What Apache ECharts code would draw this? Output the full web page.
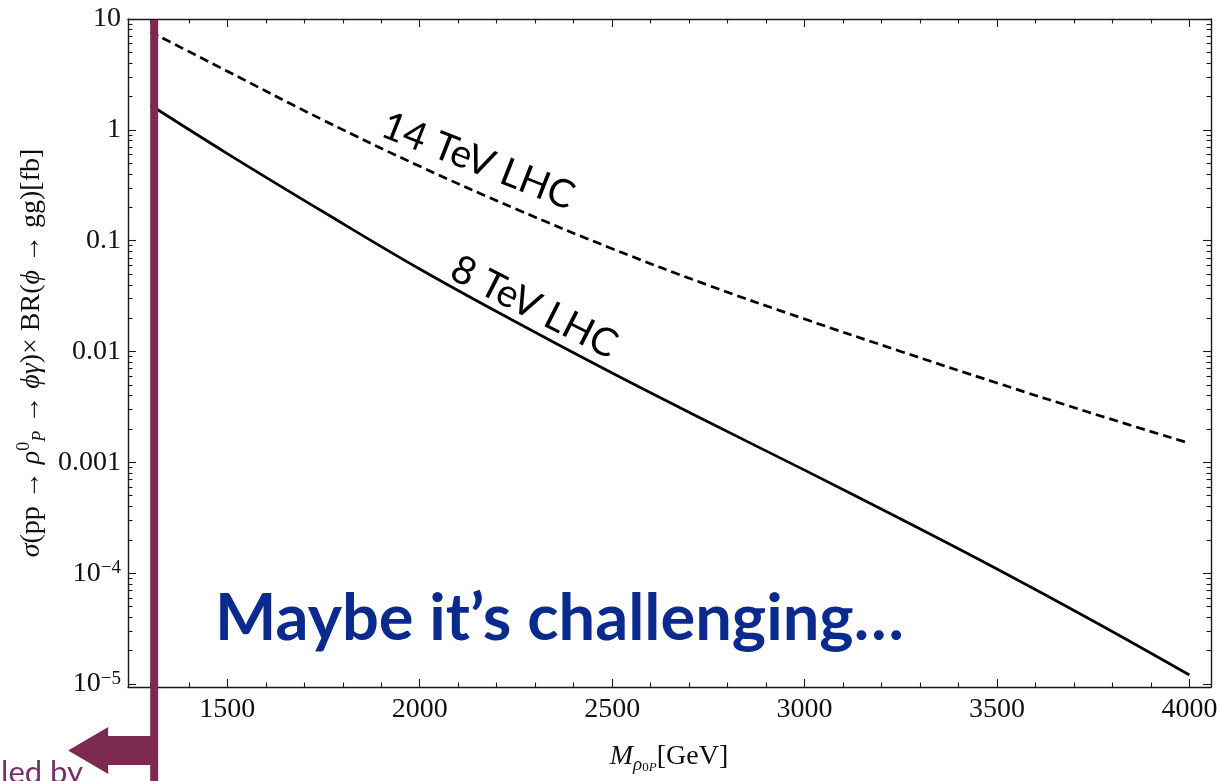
<!DOCTYPE html>
<html>
<head>
<meta charset="utf-8">
<script src="https://cdn.jsdelivr.net/npm/echarts@6/dist/echarts.min.js"></script>
<style>
html,body{margin:0;padding:0;background:#fff;overflow:hidden}
#c{width:1222px;height:781px}
</style>
</head>
<body>
<div id="c"></div>
<script>
// ---- data ----
const massGeV = [1300, 1500, 1750, 2000, 2250, 2500, 2750, 3000, 3250, 3500, 3750, 4000];
const sigma14TeV = [7.67, 3.38, 1.22, 0.469, 0.1932, 0.0847, 0.0396, 0.01963, 0.01002, 0.0052, 0.00275, 0.001486];
const sigma8TeV = [1.675, 0.611, 0.1814, 0.0555, 0.01845, 0.00639, 0.00231, 0.000851, 0.000308, 0.000109, 0.000037, 0.00001205];
const seriesNames = ['14 TeV LHC', '8 TeV LHC'];
const xMajorTicks = [1500, 2000, 2500, 3000, 3500, 4000];
const xTickLabels = ['1500', '2000', '2500', '3000', '3500', '4000'];
const yMajorTicks = [1e-5, 1e-4, 1e-3, 1e-2, 0.1, 1, 10];
const yTickLabels = ['10^−5', '10^−4', '0.001', '0.01', '0.1', '1', '10'];
const exclusionMass = 1310;
const X_MIN = 1242, X_MAX = 4056, Y_MIN = 9.4e-6, Y_MAX = 10;

// minor tick positions (axis decoration)
const xMinorTicks = [];
for (let v = 1300; v <= 4000; v += 100) if (xMajorTicks.indexOf(v) < 0) xMinorTicks.push(v);
const yMinorTicks = [];
for (let e = -5; e <= 0; e++) for (let m = 2; m <= 9; m++) yMinorTicks.push(Number((m * Math.pow(10, e)).toPrecision(6)));

const serif = "'Liberation Serif', 'DejaVu Serif', serif";
const sans = "Lato, 'Open Sans', 'Noto Sans', sans-serif";
const frameColor = '#1a1a1a';
const majorLen = 8, minorLen = 4.5;

function yLabelFmt(value) {
  let idx = -1, best = 1e9;
  yMajorTicks.forEach((t, i) => { const d = Math.abs(Math.log10(t) - Math.log10(value)); if (d < best) { best = d; idx = i; } });
  const s = yTickLabels[idx];
  if (s.indexOf('^') >= 0) { const p = s.split('^'); return '{b|' + p[0] + '}{sup|' + p[1] + '}'; }
  return '{b|' + s + '}';
}

function xAxisDef(position, ticks, len, labels, line) {
  return {
    type: 'value', position: position, min: X_MIN, max: X_MAX, gridIndex: 0,
    axisLine: { show: line, onZero: false, lineStyle: { color: frameColor, width: 1.4 } },
    axisTick: { show: true, inside: true, length: len, customValues: ticks, lineStyle: { color: frameColor, width: 1.1 } },
    axisLabel: labels ? {
      show: true, customValues: xMajorTicks, margin: 9, color: '#111', fontSize: 28, fontFamily: serif,
      formatter: v => xTickLabels[xMajorTicks.indexOf(Math.round(v))]
    } : { show: false },
    splitLine: { show: false }
  };
}
function yAxisDef(position, ticks, len, labels, line) {
  return {
    type: 'log', logBase: 10, position: position, min: Y_MIN, max: Y_MAX, gridIndex: 0,
    axisLine: { show: line, onZero: false, lineStyle: { color: frameColor, width: 1.4 } },
    axisTick: { show: true, inside: true, length: len, customValues: ticks, lineStyle: { color: frameColor, width: 1.1 } },
    axisLabel: labels ? {
      show: true, customValues: yMajorTicks, margin: 7, formatter: yLabelFmt,
      rich: {
        b: { fontSize: 28, fontFamily: serif, color: '#111', verticalAlign: 'middle', lineHeight: 30 },
        sup: { fontSize: 19, fontFamily: serif, color: '#111', verticalAlign: 'top', lineHeight: 18 }
      }
    } : { show: false },
    splitLine: { show: false }
  };
}

const chart = echarts.init(document.getElementById('c'), null, { renderer: 'canvas' });
chart.setOption({
  backgroundColor: '#ffffff',
  animation: false,
  grid: { left: 128, right: 11, top: 19, bottom: 94, containLabel: false, outerBoundsMode: 'none' },
  xAxis: [
    xAxisDef('bottom', xMajorTicks, majorLen, true, true),
    xAxisDef('bottom', xMinorTicks, minorLen, false, false),
    xAxisDef('top', xMajorTicks, majorLen, false, true),
    xAxisDef('top', xMinorTicks, minorLen, false, false)
  ],
  yAxis: [
    yAxisDef('left', yMajorTicks, majorLen, true, true),
    yAxisDef('left', yMinorTicks, minorLen, false, false),
    yAxisDef('right', yMajorTicks, majorLen, false, true),
    yAxisDef('right', yMinorTicks, minorLen, false, false)
  ],
  series: [
    {
      name: seriesNames[0], type: 'line', xAxisIndex: 0, yAxisIndex: 0,
      data: massGeV.map((m, i) => [m, sigma14TeV[i]]),
      smooth: 0.4, showSymbol: false, symbol: 'none',
      lineStyle: { color: '#000', width: 2.7, type: [9, 5] }, z: 3
    },
    {
      name: seriesNames[1], type: 'line', xAxisIndex: 0, yAxisIndex: 0,
      data: massGeV.map((m, i) => [m, sigma8TeV[i]]),
      smooth: 0.4, showSymbol: false, symbol: 'none',
      lineStyle: { color: '#000', width: 2.7 }, z: 3
    }
  ]
});

// annotations placed after layout
const bx = chart.convertToPixel({ xAxisIndex: 0 }, exclusionMass);
const by = chart.convertToPixel({ yAxisIndex: 0 }, Y_MAX);
const barW = 8, barL = bx - barW / 2;
const pink = '#7d2a53';
const deg = Math.PI / 180;

chart.setOption({
  graphic: [
    { type: 'rect', z: 100, shape: { x: barL, y: by + 1, width: barW, height: 781 - by }, style: { fill: pink } },
    { type: 'polygon', z: 100, shape: { points: [
      [barL - 82, 750.5], [barL - 42, 727], [barL - 42, 736], [barL + 1, 736],
      [barL + 1, 765], [barL - 42, 765], [barL - 42, 774]
    ] }, style: { fill: pink } },
    { type: 'text', z: 101, x: 83, y: 757, style: { text: 'led by', fontFamily: sans, fontSize: 31, fill: '#74306a', align: 'right', verticalAlign: 'top' } },
    // y axis title
    { type: 'text', z: 50, x: 32, y: 353, rotation: Math.PI / 2, style: {
      text: '{i|σ}{r|(pp → }{i|ρ}{sup|0}{sub|P}{r| → }{i|ϕγ}{r|)× BR(}{i|ϕ}{r| → gg)[fb]}',
      align: 'center', verticalAlign: 'middle',
      rich: {
        r: { fontSize: 28, fontFamily: serif, fill: '#111', lineHeight: 34, verticalAlign: 'middle' },
        i: { fontSize: 28, fontFamily: serif, fontStyle: 'italic', fill: '#111', lineHeight: 34, verticalAlign: 'middle' },
        sup: { fontSize: 18, fontFamily: serif, fill: '#111', lineHeight: 24, verticalAlign: 'top' },
        sub: { fontSize: 18, fontFamily: serif, fontStyle: 'italic', fill: '#111', lineHeight: 16, verticalAlign: 'bottom' }
      }
    } },
    // x axis title
    { type: 'text', z: 50, x: 669, y: 757, style: {
      text: '{mi|M}{sub|ρ}{ss|0}{sb|P}{r|[GeV]}',
      align: 'center', verticalAlign: 'middle',
      rich: {
        r: { fontSize: 28, fontFamily: serif, fill: '#111', lineHeight: 34, verticalAlign: 'middle' },
        mi: { fontSize: 28, fontFamily: serif, fontStyle: 'italic', fill: '#111', lineHeight: 34, verticalAlign: 'middle' },
        sub: { fontSize: 19, fontFamily: serif, fontStyle: 'italic', fill: '#111', lineHeight: 20, verticalAlign: 'bottom' },
        ss: { fontSize: 13, fontFamily: serif, fill: '#111', lineHeight: 28, verticalAlign: 'bottom' },
        sb: { fontSize: 13, fontFamily: serif, fontStyle: 'italic', fill: '#111', lineHeight: 10, verticalAlign: 'bottom' }
      }
    } },
    // curve labels
    { type: 'text', z: 50, x: 478, y: 161, rotation: -21.5 * deg, style: { text: seriesNames[0], fontFamily: sans, fontSize: 39, fill: '#000', align: 'center', verticalAlign: 'middle' } },
    { type: 'text', z: 50, x: 534, y: 307, rotation: -26.8 * deg, style: { text: seriesNames[1], fontFamily: sans, fontSize: 39, fill: '#000', align: 'center', verticalAlign: 'middle' } },
    // headline
    { type: 'text', z: 50, x: 215, y: 619, style: { text: 'Maybe it’s challenging…', fontFamily: sans, fontWeight: 'bold', fontSize: 65, fill: '#0a2a8e', align: 'left', verticalAlign: 'middle' } }
  ]
});
</script>
</body>
</html>
